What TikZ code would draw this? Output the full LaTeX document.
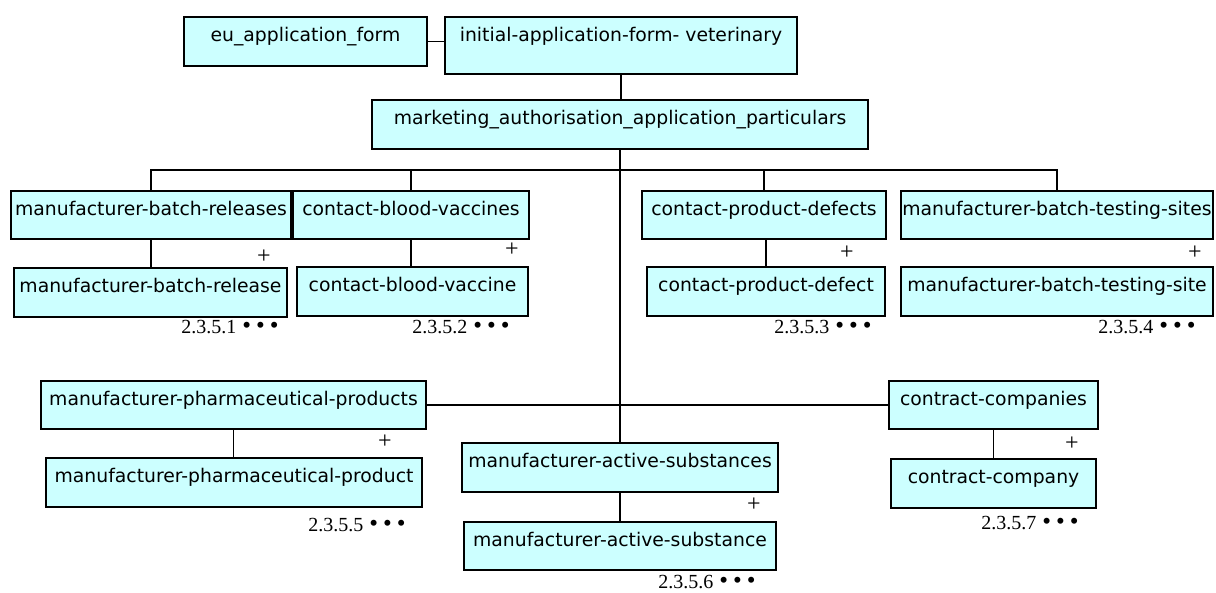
\documentclass[tikz,border=0pt]{standalone}
\usepackage{fontspec}
\setmainfont{DejaVu Sans}
\newfontfamily\numfont{Liberation Serif}
\usetikzlibrary{fit}
\definecolor{boxfill}{HTML}{CCFFFF}
\tikzset{
  box/.style={draw=black, line width=1.7pt, fill=boxfill, inner sep=0pt, outer sep=0pt},
  txt/.style={anchor=base, inner sep=0pt, font=\fontsize{18.8}{22}\selectfont},
  conn/.style={draw=black, line width=1.4pt},
  lbl/.style={inner sep=0pt, anchor=base, font=\numfont\fontsize{20}{22}\selectfont},
  plussign/.style={inner sep=0pt, font=\numfont\fontsize{24}{24}\selectfont},
}
\newcommand\mybox[6]{%
  \node[box, fit={(#2,#3) (#4,#5)}] (#1) {};
  \node[txt] (#1-t) at ([yshift=-24pt]#1.north) {#6};
}
\newcommand\mydots{\hspace{6pt}{\fontsize{25}{25}\selectfont •\hspace{5pt}•\hspace{5pt}•}}
\begin{document}
\begin{tikzpicture}[x=1pt, y=-1pt]
\useasboundingbox (0,0) rectangle (1216,592);
% boxes
\mybox{eu}{184}{17}{427}{66}{eu\_application\_form}
\mybox{init}{445}{17}{797}{74}{initial-application-form- veterinary}
\mybox{mkt}{372}{100}{868}{149}{marketing\_authorisation\_application\_particulars}
\mybox{mbr}{11}{191}{291}{239}{manufacturer-batch-releases}
\mybox{cbv}{293}{191}{529}{239}{contact-blood-vaccines}
\mybox{cpd}{642}{191}{886}{239}{contact-product-defects}
\mybox{mbts}{901}{191}{1213}{239}{manufacturer-batch-testing-sites}
\mybox{mbr1}{14}{268}{287}{317}{manufacturer-batch-release}
\mybox{cbv1}{297}{267}{528}{316}{contact-blood-vaccine}
\mybox{cpd1}{647}{267}{885}{316}{contact-product-defect}
\mybox{mbts1}{901}{267}{1213}{316}{manufacturer-batch-testing-site}
\mybox{mpps}{41}{381}{426}{429}{manufacturer-pharmaceutical-products}
\mybox{mpps1}{46}{458}{422}{507}{manufacturer-pharmaceutical-product}
\mybox{mas}{462}{443}{778}{492}{manufacturer-active-substances}
\mybox{mas1}{464}{522}{776}{570}{manufacturer-active-substance}
\mybox{cc}{889}{381}{1098}{429}{contract-companies}
\mybox{cc1}{891}{459}{1096}{508}{contract-company}
% connectors
\coordinate (bus) at (0,170);
\draw[conn] (eu.east) -- (eu.east -| init.west);
\draw[conn] (init.south) -- (init.south |- mkt.north);
\draw[conn] (mkt.south) -- (mkt.south |- mas.north);
\draw[conn] (mbr.north) -- (mbr.north |- bus) -- (mbts.north |- bus) -- (mbts.north);
\draw[conn] (cbv.north) -- (cbv.north |- bus);
\draw[conn] (cpd.north) -- (cpd.north |- bus);
\draw[conn] (mpps.east) -- (mpps.east -| cc.west);
\draw[conn] (mbr.south) -- (mbr.south |- mbr1.north);
\draw[conn] (cbv.south) -- (cbv.south |- cbv1.north);
\draw[conn] (cpd1.north) -- (cpd1.north |- cpd.south);
\draw[conn] (mpps.south) -- (mpps.south |- mpps1.north);
\draw[conn] (mas.south) -- (mas.south |- mas1.north);
\draw[conn] (cc.south) -- (cc.south |- cc1.north);
% plus signs
\node[plussign] (p1) at (264,257) {+};
\node[plussign] (p2) at (512,250) {+};
\node[plussign] (p3) at (847,253) {+};
\node[plussign] (p4) at (1195,253) {+};
\node[plussign] (p5) at (385,442) {+};
\node[plussign] (p6) at (754,505) {+};
\node[plussign] (p7) at (1072,444) {+};
% section labels
\node[lbl] (n1) at (230,333) {2.3.5.1\mydots};
\node[lbl] (n2) at (461,333) {2.3.5.2\mydots};
\node[lbl] (n3) at (823,333) {2.3.5.3\mydots};
\node[lbl] (n4) at (1147,333) {2.3.5.4\mydots};
\node[lbl] (n5) at (357,531) {2.3.5.5\mydots};
\node[lbl] (n6) at (707,588) {2.3.5.6\mydots};
\node[lbl] (n7) at (1030,529) {2.3.5.7\mydots};
\end{tikzpicture}
\end{document}
